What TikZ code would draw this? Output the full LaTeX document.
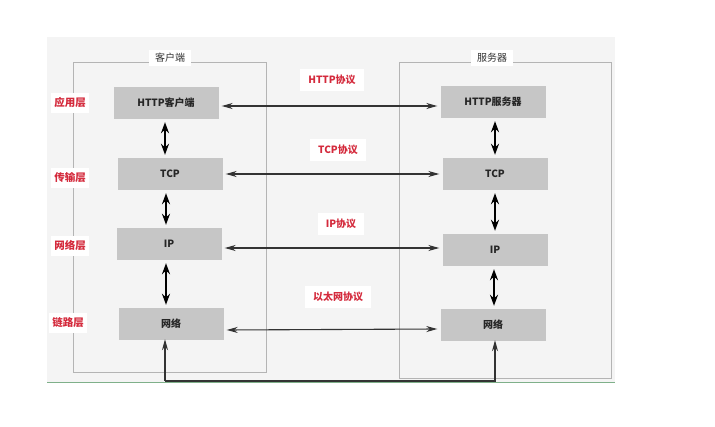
\documentclass[tikz,border=0pt]{standalone}
\usepackage{fontspec}
\setmainfont{Noto Sans CJK SC}
\usetikzlibrary{arrows.meta}
\definecolor{panel}{HTML}{F4F4F4}
\definecolor{boxgray}{HTML}{C6C6C6}
\definecolor{framegray}{HTML}{B4B4B4}
\definecolor{labred}{HTML}{D42A3C}
\definecolor{linegreen}{HTML}{7FB08A}
\tikzset{
  layerbox/.style={fill=boxgray, minimum width=105pt, minimum height=32pt, inner sep=0pt, font=\fontsize{10}{12}\selectfont\bfseries, text=black!85},
  frameline/.style={draw=framegray, line width=0.8pt},
  title/.style={fill=white, inner xsep=6pt, inner ysep=3pt, font=\fontsize{10}{12}\selectfont, text=black!80},
  layerlab/.style={fill=white, inner xsep=3pt, inner ysep=5pt, font=\fontsize{10.5}{12}\selectfont\bfseries, text=labred},
  protlab/.style={fill=white, inner xsep=8pt, inner ysep=6pt, font=\fontsize{10}{12}\selectfont\bfseries, text=labred},
  hlink/.style={draw=black!80, line width=1.1pt, {Stealth[length=11pt,width=6pt]}-{Stealth[length=11pt,width=6pt]}},
  vlink/.style={draw=black, line width=2.2pt, {Stealth[length=11pt,width=8pt]}-{Stealth[length=11pt,width=8pt]}},
  uplink/.style={draw=black!80, line width=1.1pt, -{Stealth[length=11pt,width=6pt]}}
}
\begin{document}
\begin{tikzpicture}[x=1pt,y=-1pt]
\useasboundingbox (0,0) rectangle (715,427);
\fill[white] (0,0) rectangle (715,427);
\fill[panel] (47,37) rectangle (615,383);
\draw[linegreen, line width=1pt] (47,383) -- (615,383);
% frames
\draw[frameline] (73,62) rectangle (266,372);
\draw[frameline] (399,62) rectangle (611,378);
\node[title] (ct) at (170,58) {客户端};
\node[title] (st) at (492,58) {服务器};
% layer labels
\node[layerlab] (l1) at (70,103) {应用层};
\node[layerlab] (l2) at (70,178) {传输层};
\node[layerlab] (l3) at (70,246) {网络层};
\node[layerlab] (l4) at (68,323) {链路层};
% protocol labels
\node[protlab] (p1) at (332,80) {HTTP协议};
\node[protlab] (p2) at (338,150) {TCP协议};
\node[protlab] (p3) at (341,224) {IP协议};
\node[protlab] (p4) at (338,297) {以太网协议};
% client boxes
\node[layerbox] (c1) at (166,103) {HTTP客户端};
\node[layerbox] (c2) at (170,174) {TCP};
\node[layerbox] (c3) at (169,244) {IP};
\node[layerbox] (c4) at (171,324) {网络};
% server boxes
\node[layerbox] (s1) at (493,102) {HTTP服务器};
\node[layerbox] (s2) at (495,174) {TCP};
\node[layerbox] (s3) at (495,250) {IP};
\node[layerbox] (s4) at (493,325) {网络};
% horizontal links
\draw[hlink] ([xshift=3pt,yshift=-3pt]c1.east) -- ([xshift=-3pt,yshift=-4pt]s1.west);
\draw[hlink] ([xshift=3pt]c2.east) -- ([xshift=-3pt]s2.west);
\draw[hlink] ([xshift=3pt,yshift=-4pt]c3.east) -- ([xshift=-3pt,yshift=2pt]s3.west);
\draw[hlink] ([xshift=3pt,yshift=-6pt]c4.east) -- ([xshift=-3pt,yshift=-4pt]s4.west);
% vertical links
\draw[vlink] ([xshift=-1pt,yshift=-3pt]c1.south) -- ([xshift=-5pt,yshift=3pt]c2.north);
\draw[vlink] ([xshift=-4pt,yshift=-3pt]c2.south) -- ([xshift=-3pt,yshift=3pt]c3.north);
\draw[vlink] ([xshift=-3pt,yshift=-3pt]c3.south) -- ([xshift=-5pt,yshift=3pt]c4.north);
\draw[vlink] ([xshift=2pt,yshift=-3pt]s1.south) -- ([xshift=0pt,yshift=3pt]s2.north);
\draw[vlink] ([xshift=0pt,yshift=-3pt]s2.south) -- ([xshift=0pt,yshift=3pt]s3.north);
\draw[vlink] ([xshift=-1pt,yshift=-3pt]s3.south) -- ([xshift=1pt,yshift=3pt]s4.north);
% bottom physical link
\coordinate (bl) at (165,381);
\coordinate (br) at (495,381);
\draw[uplink] (bl) -- ([xshift=-6pt,yshift=1pt]c4.south);
\draw[uplink] (bl) -- (br) -- ([xshift=2pt,yshift=1pt]s4.south);
\end{tikzpicture}
\end{document}
